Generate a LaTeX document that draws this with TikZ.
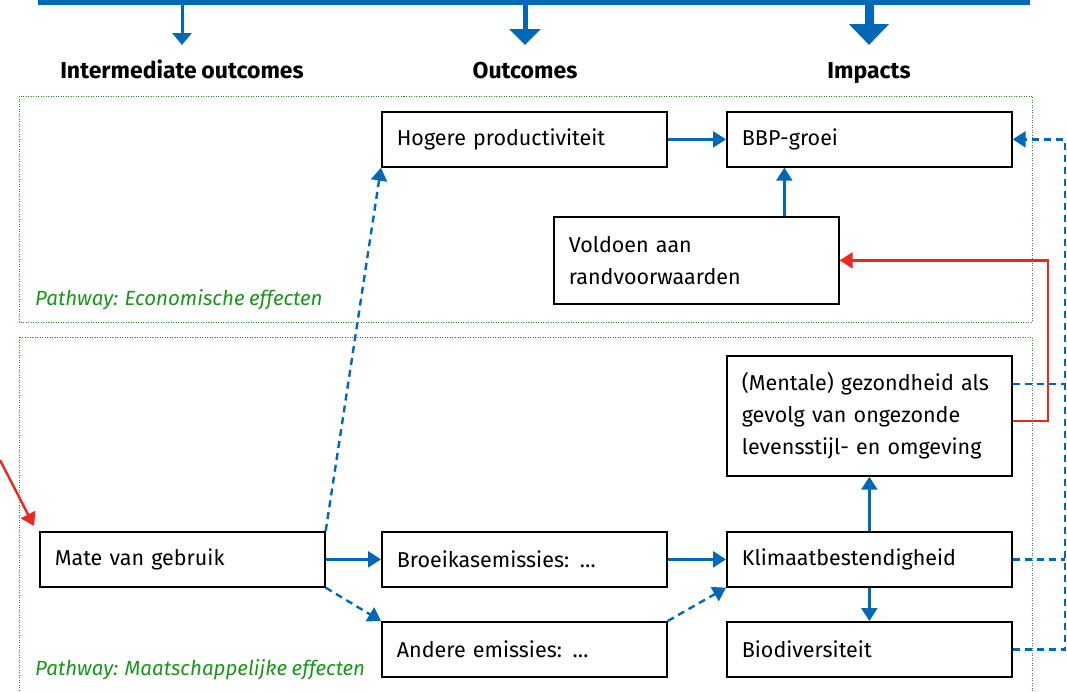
\documentclass[tikz,border=0pt]{standalone}
\usepackage{fontspec}
\setmainfont{Fira Sans}[WordSpace=0.85]
\usetikzlibrary{arrows.meta,calc}
\definecolor{rvblue}{RGB}{0,104,180}
\definecolor{rvred}{RGB}{238,40,30}
\definecolor{rvgreen}{RGB}{25,150,25}

\begin{document}
\begin{tikzpicture}[x=1pt,y=-1pt,
  box/.style={draw=black, line width=1.7pt, anchor=north west, minimum height=55pt,
    text width=255pt, inner xsep=15pt, inner ysep=4pt, align=left,
    font=\fontsize{21.5}{32}\selectfont},
  hdr/.style={anchor=base, font=\fontsize{23}{26}\selectfont\bfseries, inner sep=0pt},
  pathlbl/.style={anchor=base west, inner sep=0pt, text=rvgreen,
    font=\fontsize{20.5}{24}\selectfont\itshape},
  zone/.style={draw=rvgreen, line width=0.9pt, dash pattern=on 1pt off 1.5pt},
  link/.style={draw=rvblue, line width=2.4pt, -{Triangle[length=13pt,width=16pt]}},
  maybe/.style={link, dash pattern=on 7pt off 5pt},
  backlink/.style={draw=rvblue, line width=2.4pt, dash pattern=on 7pt off 5pt},
  feed/.style={draw=rvred, line width=2.4pt, -{Triangle[length=13pt,width=16pt]}},
]
\useasboundingbox (0,0) rectangle (1067,691);
\clip (0,0) rectangle (1067,691);

% pathway zones
\draw[zone] (19,96) rectangle (1032,322);
\draw[zone] (19,337) rectangle (1032,720);
\node[pathlbl] (pecon) at (35,305) {Pathway: Economische effecten};
\node[pathlbl] (pmaat) at (35,675) {Pathway: Maatschappelijke effecten};

% column headers with the bar above them
\node[fill=rvblue, minimum width=992pt, minimum height=12pt, inner sep=0pt,
      anchor=south west] (bar) at (38,5) {};
\node[hdr] (hA) at (182,78) {Intermediate outcomes};
\node[hdr] (hB) at (525,78) {Outcomes};
\node[hdr] (hC) at (869,78) {Impacts};
\draw[draw=rvblue, line width=3pt, -{Triangle[length=12pt,width=19pt]}]
  (bar.south -| hA) -- ([yshift=33pt]hA.base);
\draw[draw=rvblue, line width=5pt, -{Triangle[length=16pt,width=31pt]}]
  (bar.south -| hB) -- ([yshift=33pt]hB.base);
\draw[draw=rvblue, line width=9pt, -{Triangle[length=21pt,width=39pt]}]
  (bar.south -| hC) -- ([yshift=33pt]hC.base);

% boxes
\node[box] (hog)  at (381,111) {Hogere productiviteit};
\node[box] (bbp)  at (726,111) {BBP-groei};
\node[box, minimum height=87pt] (vold) at (553,216) {Voldoen aan\\randvoorwaarden};
\node[box, minimum height=120pt] (ment) at (726,355)
  {(Mentale) gezondheid als\\gevolg van ongezonde\\levensstijl- en omgeving};
\node[box] (mate) at (39,531)  {Mate van gebruik};
\node[box] (broe) at (381,531) {Broeikasemissies: …};
\node[box] (klim) at (726,531) {Klimaatbestendigheid};
\node[box] (ande) at (381,621) {Andere emissies: …};
\node[box] (bio)  at (726,621) {Biodiversiteit};

% forward links
\draw[link] (mate.east) -- (broe.west);
\draw[maybe] (mate.south east) -- (ande.north west);
\draw[maybe] (mate.north east) -- (hog.south west);
\draw[link] (hog.east) -- (bbp.west);
\draw[link] ([xshift=88pt]vold.north) -- ([xshift=88pt]vold.north |- bbp.south);
\draw[link] (broe.east) -- (klim.west);
\draw[maybe] (ande.north east) -- (klim.south west);
\draw[link] (klim.north) -- (ment.south);
\draw[link] (klim.south) -- (bio.north);

% feedback from health to the conditions box
\draw[feed] ([yshift=-5pt]ment.east) -- ++(35,0) |- (vold.east);
\coordinate (entry) at (0,460);
\draw[feed] (entry) -- ([xshift=-5pt,yshift=5pt]mate.north west);

% dashed return path to BBP-groei
\coordinate (rail) at (1065,0);
\draw[backlink] ([yshift=-29pt]ment.north east) -- ([yshift=-29pt]ment.north east -| rail);
\draw[backlink] (klim.east) -- (klim.east -| rail);
\draw[backlink, -{Triangle[length=13pt,width=16pt]}]
  (bio.east) -- (bio.east -| rail) |- (bbp.east);
\end{tikzpicture}
\end{document}
